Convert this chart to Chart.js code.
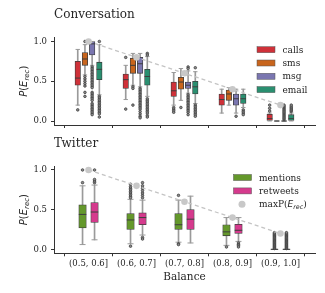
<!DOCTYPE html>
<html>
<head>
<meta charset="utf-8">
<script src="https://cdn.jsdelivr.net/npm/chart.js@4.4.1/dist/chart.umd.min.js"></script>
<style>
  body { margin: 0; background: #fff; }
  #wrap { position: relative; width: 325px; height: 293px; }
  canvas { position: absolute; left: 0; }
</style>
</head>
<body>
<div id="wrap">
  <canvas id="convChart" width="325" height="140" style="top:0"></canvas>
  <canvas id="twitChart" width="325" height="163" style="top:130px"></canvas>
</div>
<script>
const balanceBins = ['(0.5, 0.6]', '(0.6, 0.7]', '(0.7, 0.8]', '(0.8, 0.9]', '(0.9, 1.0]'];
const yTickValues = [0, 0.5, 1.0];
const maxP = [1.0, 0.8, 0.6, 0.4, 0.2];

// box stats per bin: [low whisker, q1, median, q3, high whisker]
const callsBox = [[0.20, 0.45, 0.54, 0.75, 0.90], [0.27, 0.41, 0.52, 0.59, 0.70], [0.20, 0.31, 0.38, 0.49, 0.61], [0.10, 0.20, 0.27, 0.34, 0.40], [0, 0, 0.03, 0.085, 0.10]];
const callsOut = [[0.14], [0.80, 0.15], [0.17, 0.15, 0.13, 0.11], [], [0.125, 0.16, 0.20]];

const smsBox = [[0.58, 0.70, 0.78, 0.86, 0.96], [0.45, 0.60, 0.70, 0.79, 0.85], [0.26, 0.40, 0.49, 0.55, 0.66], [0.20, 0.26, 0.34, 0.39, 0.42], [0, 0, 0, 0, 0]];
const smsOut = [[1.0, 0.56, 0.53, 0.50, 0.47, 0.44, 0.36, 0.31], [0.43, 0.41, 0.20], [0.17], [], []];

const msgBox = [[0.70, 0.83, 0.97, 1.0, 1.0], [0.43, 0.60, 0.72, 0.80, 0.85], [0.35, 0.41, 0.45, 0.49, 0.63], [0.10, 0.20, 0.28, 0.34, 0.40], [0, 0, 0, 0, 0]];
const msgOut = [
  [0.68, 0.66, 0.64, 0.62, 0.60, 0.58, 0.56, 0.54, 0.52, 0.50, 0.48, 0.46, 0.44, 0.42, 0.36, 0.34, 0.32, 0.30, 0.28, 0.26, 0.22, 0.20, 0.18, 0.16, 0.14, 0.12, 0.10, 0.08],
  [0.41, 0.39, 0.37, 0.35, 0.33, 0.31, 0.29, 0.27, 0.25, 0.23, 0.21, 0.19, 0.17, 0.15, 0.12, 0.09, 0.06, 0.04],
  [0.68, 0.66, 0.33, 0.31, 0.29, 0.27, 0.25, 0.23, 0.21, 0.19, 0.17, 0.15, 0.13, 0.11, 0.08],
  [0.06],
  [0.02, 0.035, 0.05, 0.065, 0.08, 0.095, 0.11, 0.125, 0.14, 0.155, 0.17, 0.185, 0.20]
];

const emailBox = [[0.33, 0.52, 0.65, 0.74, 0.96], [0.31, 0.45, 0.56, 0.65, 0.81], [0.22, 0.34, 0.43, 0.50, 0.62], [0.17, 0.22, 0.28, 0.34, 0.40], [0, 0, 0.03, 0.08, 0.10]];
const emailOut = [
  [1.0, 0.31, 0.29, 0.27, 0.25, 0.23, 0.21, 0.19, 0.17, 0.15, 0.13, 0.11, 0.09, 0.05],
  [0.85, 0.83, 0.28, 0.26, 0.24, 0.22, 0.20, 0.18, 0.16, 0.14, 0.12, 0.10, 0.07, 0.05],
  [0.67, 0.20, 0.18, 0.16, 0.14, 0.12, 0.10, 0.08, 0.06],
  [0.14, 0.12, 0.10, 0.08],
  [0.12, 0.135, 0.15, 0.165, 0.18, 0.20]
];

const mentionsBox = [[0.06, 0.27, 0.44, 0.56, 0.80], [0.07, 0.25, 0.37, 0.45, 0.63], [0.09, 0.25, 0.31, 0.45, 0.62], [0.05, 0.17, 0.22, 0.31, 0.40], [0, 0, 0, 0, 0]];
const mentionsOut = [
  [1.0, 0.84],
  [0.82, 0.79, 0.77, 0.75, 0.73, 0.71, 0.69, 0.67, 0.65, 0.04],
  [0.68, 0.07, 0.06],
  [0.03],
  [0.01, 0.02, 0.03, 0.04, 0.05, 0.06, 0.07, 0.08, 0.09, 0.10, 0.11, 0.12, 0.13, 0.14, 0.15, 0.16, 0.17, 0.18, 0.19, 0.20, 0.21]
];

const retweetsBox = [[0.12, 0.34, 0.47, 0.59, 0.81], [0.18, 0.31, 0.40, 0.46, 0.62], [0.08, 0.25, 0.38, 0.50, 0.67], [0.10, 0.20, 0.24, 0.315, 0.40], [0, 0, 0, 0, 0]];
const retweetsOut = [
  [1.0, 0.84, 0.86, 0.88],
  [0.65, 0.68, 0.71, 0.74, 0.77, 0.80, 0.84, 0.15, 0.13],
  [],
  [0.08, 0.06, 0.05, 0.03],
  [0.01, 0.02, 0.03, 0.04, 0.05, 0.06, 0.07, 0.08, 0.09, 0.10, 0.11, 0.12, 0.13, 0.14, 0.15, 0.16, 0.17, 0.18, 0.19, 0.20, 0.21]
];

const convSeries = [
  { name: 'calls', box: callsBox, out: callsOut, color: '#cf3139' },
  { name: 'sms', box: smsBox, out: smsOut, color: '#c8651d' },
  { name: 'msg', box: msgBox, out: msgOut, color: '#7a76b0' },
  { name: 'email', box: emailBox, out: emailOut, color: '#2a8f70' }
];
const twitSeries = [
  { name: 'mentions', box: mentionsBox, out: mentionsOut, color: '#64982b' },
  { name: 'retweets', box: retweetsBox, out: retweetsOut, color: '#d53a8d' }
];

const edge = '#3d3d3d';
const whiskerColor = '#9a9a9a';
const textColor = '#262626';
const serif = '"DejaVu Serif", serif';

function boxDatasets(s, offset, boxW) {
  const xs = s.box.map((b, i) => i + offset);
  return [
    {
      type: 'bar', data: s.box.map((b, i) => ({ x: xs[i], y: [b[0], b[4]] })),
      backgroundColor: whiskerColor, borderWidth: 0, barThickness: 1, maxBarThickness: 1,
      grouped: false, order: 6
    },
    {
      type: 'bar', label: s.name, data: s.box.map((b, i) => ({ x: xs[i], y: [b[1], b[3]] })),
      backgroundColor: s.color, borderColor: edge, borderWidth: 0.8, borderSkipped: false,
      barThickness: boxW, maxBarThickness: boxW, grouped: false, order: 5
    },
    {
      type: 'scatter', data: s.box.flatMap((b, i) => [{ x: xs[i], y: b[0] }, { x: xs[i], y: b[4] }]),
      pointStyle: 'line', pointRadius: boxW * 0.4, pointBorderColor: whiskerColor, pointBorderWidth: 1, order: 4
    },
    {
      type: 'scatter', data: s.box.map((b, i) => ({ x: xs[i], y: b[2] })),
      pointStyle: 'line', pointRadius: boxW / 2, pointBorderColor: edge, pointBorderWidth: 1, order: 3
    },
    {
      type: 'scatter', data: s.out.flatMap((list, i) => list.map(v => ({ x: xs[i], y: v }))),
      pointStyle: 'circle', pointRadius: 1.3, pointBackgroundColor: '#8c8c8c',
      pointBorderColor: '#333', pointBorderWidth: 0.7, order: 2
    }
  ];
}

function maxDataset() {
  return {
    type: 'line', data: maxP.map((v, i) => ({ x: i, y: v })),
    borderColor: '#c4c4c4', borderWidth: 1.3, borderDash: [4, 3],
    pointRadius: 3.3, pointBackgroundColor: '#c8c8c8', pointBorderWidth: 0, order: 1
  };
}

function drawRich(ctx, parts, x, y, center) {
  let total = 0;
  parts.forEach(p => { ctx.font = p.f; total += ctx.measureText(p.t).width; });
  let cx = center ? x - total / 2 : x;
  parts.forEach(p => {
    ctx.font = p.f;
    ctx.fillText(p.t, cx, y + (p.dy || 0));
    cx += ctx.measureText(p.t).width;
  });
}

const yLabelParts = [
  { t: 'P', f: 'italic 10px "DejaVu Sans"' },
  { t: '(', f: '10px "DejaVu Sans"' },
  { t: 'E', f: 'italic 10px "DejaVu Sans"' },
  { t: 'rec', f: 'italic 7px "DejaVu Sans"', dy: 2 },
  { t: ')', f: '10px "DejaVu Sans"' }
];
const maxLabelParts = [
  { t: 'maxP(', f: '9px ' + serif },
  { t: 'E', f: 'italic 9px "DejaVu Sans"' },
  { t: 'rec', f: 'italic 6.3px "DejaVu Sans"', dy: 2 },
  { t: ')', f: '9px ' + serif }
];

const decor = {
  id: 'decor',
  afterDraw(chart, args, o) {
    const ctx = chart.ctx;
    const a = chart.chartArea;
    ctx.save();
    ctx.fillStyle = textColor;
    ctx.textBaseline = 'alphabetic';
    ctx.font = '12px ' + serif;
    ctx.fillText(o.title, a.left, o.titleY);

    o.items.forEach((it, k) => {
      const cy = o.legendY + k * o.legendStep;
      if (it.dot) {
        ctx.fillStyle = '#c8c8c8';
        ctx.beginPath();
        ctx.arc(o.legendX + 8.5, cy, 3.5, 0, Math.PI * 2);
        ctx.fill();
      } else {
        ctx.fillStyle = it.color;
        ctx.fillRect(o.legendX, cy - 3, 18, 6);
        ctx.strokeStyle = '#555';
        ctx.lineWidth = 0.5;
        ctx.strokeRect(o.legendX, cy - 3, 18, 6);
      }
      ctx.fillStyle = textColor;
      if (it.parts) drawRich(ctx, it.parts, o.legendX + 25.5, cy + 3, false);
      else { ctx.font = '9px ' + serif; ctx.fillText(it.label, o.legendX + 25.5, cy + 3); }
    });

    ctx.translate(a.left - 31, (a.top + a.bottom) / 2);
    ctx.rotate(-Math.PI / 2);
    drawRich(ctx, yLabelParts, 0, 3.5, true);
    ctx.restore();
  }
};

function makeOptions(bottomAxis, padTop, xHeight, decorOpts) {
  return {
    responsive: false,
    animation: false,
    events: [],
    layout: { padding: { top: padTop, right: 10, left: 0, bottom: 0 } },
    plugins: { legend: { display: false }, tooltip: { enabled: false }, decor: decorOpts },
    scales: {
      x: {
        type: 'linear', min: -0.72, max: 4.72, offset: false,
        afterBuildTicks: s => { s.ticks = balanceBins.map((_, i) => ({ value: i })); },
        afterFit: s => { s.height = xHeight; },
        grid: { drawOnChartArea: false, color: '#333', tickLength: 3 },
        border: { color: '#333', width: 1 },
        ticks: {
          display: bottomAxis, color: textColor, padding: 2, maxRotation: 0, autoSkip: false,
          font: { family: serif, size: 8.5 }, callback: v => balanceBins[v]
        },
        title: {
          display: bottomAxis, text: 'Balance', color: textColor,
          font: { family: serif, size: 10.5 }, padding: { top: 0, bottom: 9.5 }
        }
      },
      y: {
        min: -0.05, max: 1.05,
        afterBuildTicks: s => { s.ticks = yTickValues.map(v => ({ value: v })); },
        afterFit: s => { s.width = 54; },
        grid: { drawOnChartArea: false, color: '#333', tickLength: 3 },
        border: { color: '#333', width: 1 },
        ticks: { color: textColor, padding: 4, font: { family: serif, size: 8.5 }, callback: v => v.toFixed(1) }
      }
    }
  };
}

const convSets = [maxDataset()];
convSeries.forEach((s, k) => convSets.push(...boxDatasets(s, (k - 1.5) * 0.15, 5.5)));
new Chart(document.getElementById('convChart'), {
  type: 'bar',
  data: { datasets: convSets },
  options: makeOptions(false, 37.5, 15, {
    title: 'Conversation', titleY: 18.3, legendX: 257, legendY: 49.7, legendStep: 13.3,
    items: convSeries.map(s => ({ label: s.name, color: s.color }))
  }),
  plugins: [decor]
});

const twitSets = [maxDataset()];
twitSeries.forEach((s, k) => twitSets.push(...boxDatasets(s, (k - 0.5) * 0.25, 7.5)));
new Chart(document.getElementById('twitChart'), {
  type: 'bar',
  data: { datasets: twitSets },
  options: makeOptions(true, 36, 39.7, {
    title: 'Twitter', titleY: 16.7, legendX: 233.5, legendY: 47.5, legendStep: 13.4,
    items: twitSeries.map(s => ({ label: s.name, color: s.color })).concat([{ dot: true, parts: maxLabelParts }])
  }),
  plugins: [decor]
});
</script>
</body>
</html>
